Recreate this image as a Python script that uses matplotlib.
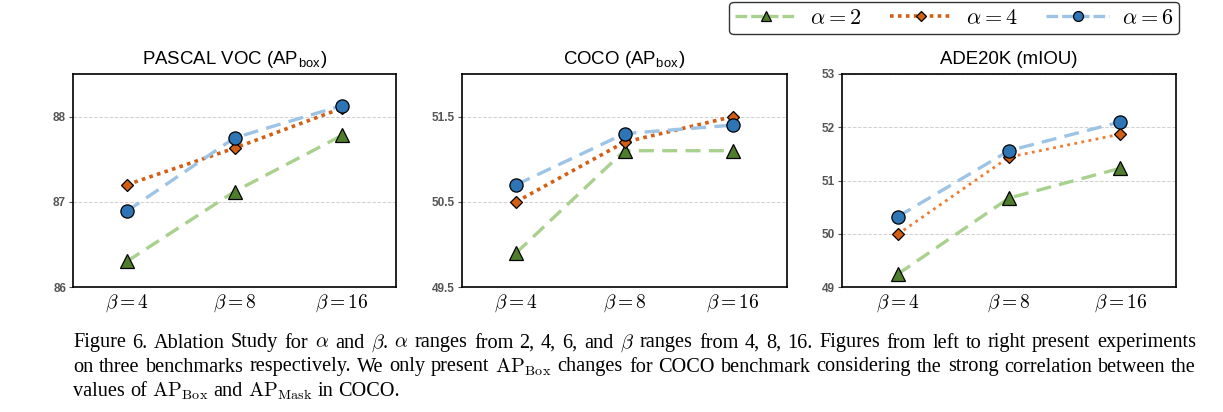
import numpy as np
import matplotlib
matplotlib.use("Agg")
import matplotlib.pyplot as plt
from matplotlib.lines import Line2D

plt.rcParams['mathtext.fontset'] = 'cm'
plt.rcParams['font.family'] = ['Liberation Sans', 'DejaVu Sans']

# data
betas = [r'$\beta=4$', r'$\beta=8$', r'$\beta=16$']
alphas = [r'$\alpha=2$', r'$\alpha=4$', r'$\alpha=6$']
titles = [r'PASCAL VOC (AP$_\mathregular{box}$)', r'COCO (AP$_\mathregular{box}$)', 'ADE20K (mIOU)']

voc_a2 = [86.30, 87.12, 87.78]
voc_a4 = [87.20, 87.63, 88.10]
voc_a6 = [86.89, 87.75, 88.13]

coco_a2 = [49.9, 51.1, 51.1]
coco_a4 = [50.5, 51.2, 51.5]
coco_a6 = [50.7, 51.3, 51.4]

ade_a2 = [49.24, 50.67, 51.23]
ade_a4 = [49.99, 51.44, 51.87]
ade_a6 = [50.32, 51.56, 52.10]

yticks = [[86, 87, 88], [49.5, 50.5, 51.5], [49, 50, 51, 52, 53]]
ylims = [(86, 88.5), (49.5, 52.0), (49, 53)]

panels = [(voc_a2, voc_a4, voc_a6), (coco_a2, coco_a4, coco_a6), (ade_a2, ade_a4, ade_a6)]

styles = [
    dict(color='#a9d18e', ls=(0, (4.5, 2.5)), lw=2.4, marker='^', mfc='#4e7d2c', ms=9.5),
    dict(color='#d35f15', ls=(0, (1, 1.2)), lw=2.6, marker='D', mfc='#d35f15', ms=6.5),
    dict(color='#9dc3e6', ls=(0, (4.5, 2.5)), lw=2.4, marker='o', mfc='#2e75b6', ms=9.5),
]

W, H = 1223, 412
fig = plt.figure(figsize=(W / 100, H / 100), dpi=100)

boxes = [(73, 396), (462, 787), (842, 1176)]
top, bottom = 74, 287
x = np.arange(len(betas))

for i, (l, r) in enumerate(boxes):
    ax = fig.add_axes([l / W, 1 - bottom / H, (r - l) / W, (bottom - top) / H])
    for k, vals in enumerate(panels[i]):
        st = dict(styles[k])
        if i == 2 and k == 1:
            st['color'] = '#f07b32'
            st['ls'] = (0, (1, 1.6))
            st['lw'] = 2.0
        ax.plot(x, vals, color=st['color'], ls=st['ls'], lw=st['lw'],
                marker=st['marker'], mfc=st['mfc'], mec='black', mew=0.9,
                ms=st['ms'], zorder=3 + k)
    ax.set_xlim(-0.5, 2.5)
    ax.set_ylim(*ylims[i])
    ax.set_yticks(yticks[i])
    ax.set_yticklabels([('%g' % v) for v in yticks[i]], color='#555555',
                       fontweight='bold', fontsize=8.5)
    ax.set_xticks(x)
    ax.set_xticklabels(betas, fontsize=14)
    ax.tick_params(axis='x', length=0, pad=4)
    ax.tick_params(axis='y', length=3, width=0.8, pad=2, color='#555555')
    ax.yaxis.grid(True, color='#d0d0d0', ls='--', lw=0.7)
    ax.set_axisbelow(True)
    for sp in ax.spines.values():
        sp.set_linewidth(1.2)
        sp.set_color('black')
    ax.set_title(titles[i], fontsize=13.4, pad=7)

handles = []
for k in range(3):
    st = styles[k]
    handles.append(Line2D([], [], color=st['color'], ls=(0, (3.5, 1.2)) if k != 1 else st['ls'],
                          lw=st['lw'], marker=st['marker'], mfc=st['mfc'], mec='black',
                          mew=0.9, ms=st['ms'] * 0.75))
leg = fig.legend(handles, alphas, loc='upper right', bbox_to_anchor=(1179 / W, 1 - 2 / H),
                 ncol=3, fontsize=16, frameon=True, fancybox=True, edgecolor='black',
                 handlelength=2.8, columnspacing=1.3, handletextpad=0.6,
                 borderpad=0.25, borderaxespad=0)
leg.get_frame().set_linewidth(1.0)

# caption, justified line by line
caption = [
    r"Figure 6.  Ablation Study for $\alpha$ and $\beta$.  $\alpha$ ranges from 2, 4, 6, and $\beta$ ranges from 4, 8, 16.  Figures from left to right present experiments",
    r"on three benchmarks respectively. We only present $\mathrm{AP}_\mathrm{Box}$ changes for COCO benchmark considering the strong correlation between the",
    r"values of $\mathrm{AP}_\mathrm{Box}$ and $\mathrm{AP}_\mathrm{Mask}$ in COCO.",
]
cap_left, cap_right = 73, 1196
cap_y = [343, 367, 391]
cap_fs = 14.6
renderer = fig.canvas.get_renderer()
for n, line in enumerate(caption):
    words = [w for w in line.split(' ') if w]
    yy = 1 - cap_y[n] / H
    texts = [fig.text(0, yy, w, family='Liberation Serif', fontsize=cap_fs,
                      va='center', ha='left') for w in words]
    widths = [t.get_window_extent(renderer).width for t in texts]
    if n == len(caption) - 1:
        gap = cap_fs * 0.25 * 100 / 72
    else:
        gap = (cap_right - cap_left - sum(widths)) / (len(words) - 1)
    pos = cap_left
    for t, w in zip(texts, widths):
        t.set_x(pos / W)
        pos += w + gap

fig.savefig('out.png', dpi=100)
